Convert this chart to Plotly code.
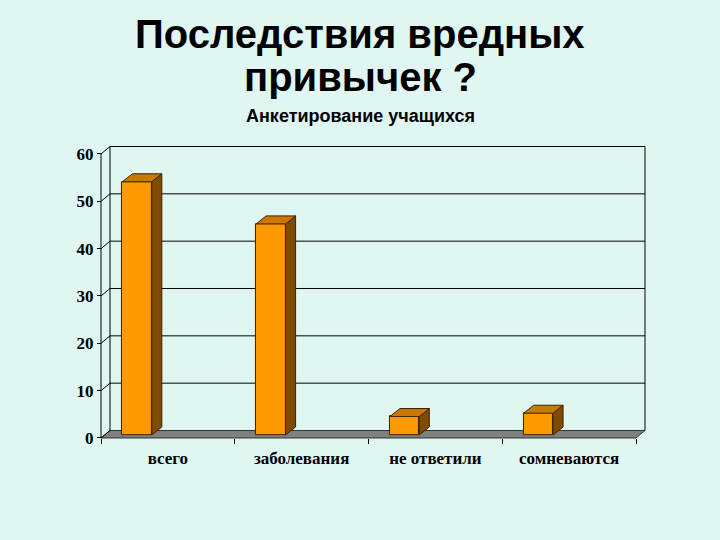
import plotly.graph_objects as go

# ---------------- data ----------------
categories = ["всего", "заболевания", "не ответили", "сомневаются"]
values = [53.5, 44.6, 3.9, 4.6]
y_ticks = [0, 10, 20, 30, 40, 50, 60]
title_line1 = "Последствия вредных"
title_line2 = "привычек ?"
subtitle = "Анкетирование учащихся"

# ---------------- geometry ----------------
W, H = 720, 540
BG = "#DFF6F3"
X0_PX, X4_PX = 101, 636
Y0_PX, Y60_PX = 438, 154
n = len(categories)
ymax = y_ticks[-1]
ppx = (X4_PX - X0_PX) / n
ppy = (Y0_PX - Y60_PX) / ymax

xr = [-0.12, n + 0.2]
yr = [-2.5, ymax + 2.5]
xdom = [(X0_PX + xr[0] * ppx) / W, (X0_PX + xr[1] * ppx) / W]
ydom = [1 - (Y0_PX - yr[0] * ppy) / H, 1 - (Y0_PX - yr[1] * ppy) / H]

wdx, wdy = 9 / ppx, 7.5 / ppy      # wall depth
bdx, bdy = 10 / ppx, 8 / ppy       # bar depth
bbase = 3 / ppy
bar_off, bar_w = 0.27, 0.22

FRONT = "#FF9900"
TOP = "#C97800"
SIDE = "#7F4B00"
EDGE = "#3A2400"

fig = go.Figure()

xc = [i + bar_off for i in range(n)]
fig.add_trace(go.Bar(
    x=xc, y=values, base=[bbase] * n, width=bar_w,
    marker=dict(color=FRONT, line=dict(color=EDGE, width=1)),
    hoverinfo="skip", showlegend=False,
))

for xcen, v in zip(xc, values):
    x0, x1 = xcen - bar_w / 2, xcen + bar_w / 2
    top = v + bbase
    # side face
    fig.add_trace(go.Scatter(
        x=[x1, x1, x1 + bdx, x1 + bdx, x1],
        y=[bbase, top, top + bdy, bbase + bdy, bbase],
        mode="lines", fill="toself", fillcolor=SIDE,
        line=dict(color=EDGE, width=1), hoverinfo="skip", showlegend=False,
    ))
    # top face
    fig.add_trace(go.Scatter(
        x=[x0, x1, x1 + bdx, x0 + bdx, x0],
        y=[top, top, top + bdy, top + bdy, top],
        mode="lines", fill="toself", fillcolor=TOP,
        line=dict(color=EDGE, width=1), hoverinfo="skip", showlegend=False,
    ))

shapes = []
# floor
shapes.append(dict(type="path", xref="x", yref="y", layer="below",
                   path=f"M 0 0 L {n} 0 L {n + wdx} {wdy} L {wdx} {wdy} Z",
                   fillcolor="#808080", line=dict(color="#333333", width=1)))
# back wall grid lines
for t in y_ticks[1:]:
    shapes.append(dict(type="line", xref="x", yref="y", layer="below",
                       x0=wdx, x1=n + wdx, y0=t + wdy, y1=t + wdy,
                       line=dict(color="black", width=1)))
# wall verticals
for xx in (wdx, n + wdx):
    shapes.append(dict(type="line", xref="x", yref="y", layer="below",
                       x0=xx, x1=xx, y0=wdy, y1=ymax + wdy,
                       line=dict(color="black", width=1)))
# connectors from front axis to wall
for t in y_ticks:
    shapes.append(dict(type="line", xref="x", yref="y", layer="below",
                       x0=0, x1=wdx, y0=t, y1=t + wdy,
                       line=dict(color="black", width=1)))
# front axis line
shapes.append(dict(type="line", xref="x", yref="y", layer="below",
                   x0=0, x1=0, y0=0, y1=ymax,
                   line=dict(color="black", width=1)))

annotations = [
    dict(text=f"<b>{title_line1}</b>", x=0.5, y=1 - 34 / H, xref="paper", yref="paper",
         showarrow=False, xanchor="center", yanchor="middle",
         font=dict(family="Arial, Liberation Sans", size=40, color="black")),
    dict(text=f"<b>{title_line2}</b>", x=0.5, y=1 - 77 / H, xref="paper", yref="paper",
         showarrow=False, xanchor="center", yanchor="middle",
         font=dict(family="Arial, Liberation Sans", size=40, color="black")),
    dict(text=f"<b>{subtitle}</b>", x=0.5, y=1 - 116 / H, xref="paper", yref="paper",
         showarrow=False, xanchor="center", yanchor="middle",
         font=dict(family="Arial, Liberation Sans", size=18, color="black")),
]

fig.update_layout(
    width=W, height=H, margin=dict(l=0, r=0, t=0, b=0),
    paper_bgcolor=BG, plot_bgcolor=BG,
    shapes=shapes, annotations=annotations, bargap=0,
    xaxis=dict(range=xr, domain=xdom, anchor="free", position=1 - Y0_PX / H,
               tickvals=[i + 0.5 for i in range(n)], ticktext=categories,
               ticks="", showgrid=False, zeroline=False, showline=False,
               tickfont=dict(family="Liberation Serif, Times New Roman", size=17,
                             color="black", weight="bold"),
               ticklabelstandoff=8,
               minor=dict(tickvals=list(range(n + 1)), ticks="outside", ticklen=5,
                          tickcolor="black", tickwidth=1, showgrid=False)),
    yaxis=dict(range=yr, domain=ydom, anchor="free", position=X0_PX / W,
               tickvals=y_ticks, ticks="outside", ticklen=4, tickcolor="black",
               showgrid=False, zeroline=False, showline=False,
               tickfont=dict(family="Liberation Serif, Times New Roman", size=17,
                             color="black", weight="bold")),
)

fig.write_html("out.html")
